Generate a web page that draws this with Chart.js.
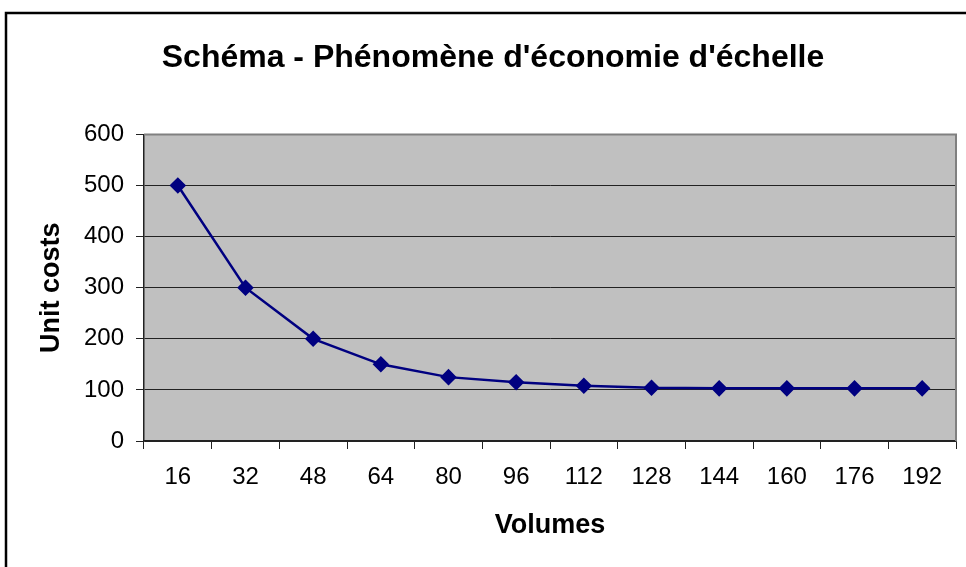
<!DOCTYPE html>
<html>
<head>
<meta charset="utf-8">
<script src="https://cdn.jsdelivr.net/npm/chart.js@4/dist/chart.umd.min.js"></script>
<style>
  html, body { margin: 0; padding: 0; background: #fff; }
  #holder { width: 966px; height: 567px; }
</style>
</head>
<body>
<div id="holder"><canvas id="chart" width="966" height="567"></canvas></div>
<script>
var volumes = ['16', '32', '48', '64', '80', '96', '112', '128', '144', '160', '176', '192']
var unit_costs = [500, 300, 200, 150, 125, 115, 108, 104, 103, 103, 103, 103]
var chart_title = "Schéma - Phénomène d'économie d'échelle"
var y_title = 'Unit costs'
var x_title = 'Volumes'

var font_family = "Arial, 'Liberation Sans', sans-serif"

// grey plot area + outer frame, like the old Excel chart
var frame_plugin = {
    id: 'frame',
    beforeDraw: function (chart) {
        var ctx = chart.ctx
        var a = chart.chartArea
        ctx.save()
        ctx.fillStyle = '#fff'
        ctx.fillRect(0, 0, chart.width, chart.height)
        ctx.fillStyle = '#c0c0c0'
        ctx.fillRect(a.left, a.top, a.right - a.left, a.bottom - a.top)
        ctx.restore()
    },
    afterDraw: function (chart) {
        var ctx = chart.ctx
        var a = chart.chartArea
        ctx.save()
        ctx.strokeStyle = '#808080'
        ctx.lineWidth = 2
        ctx.beginPath()
        ctx.moveTo(a.left, a.top)
        ctx.lineTo(a.right, a.top)
        ctx.lineTo(a.right, a.bottom)
        ctx.stroke()
        ctx.strokeStyle = '#000'
        ctx.lineWidth = 2.5
        ctx.strokeRect(6, 13, 1100, 1100)
        ctx.restore()
    }
}

Chart.defaults.color = '#000'
Chart.defaults.font.family = font_family

new Chart(document.getElementById('chart'), {
    type: 'line',
    data: {
        labels: volumes,
        datasets: [{
            label: y_title,
            data: unit_costs,
            borderColor: '#000080',
            backgroundColor: '#000080',
            borderWidth: 2.5,
            pointStyle: 'rectRot',
            pointRadius: 6.5,
            pointHoverRadius: 6.5,
            tension: 0,
            fill: false
        }]
    },
    options: {
        responsive: false,
        animation: false,
        layout: {padding: {left: 30, right: 10, top: 0, bottom: 0}},
        plugins: {
            legend: {display: false},
            tooltip: {enabled: false},
            title: {
                display: true,
                text: chart_title,
                color: '#000',
                font: {size: 32, weight: 'bold', family: font_family},
                padding: {top: 39, bottom: 57}
            }
        },
        scales: {
            x: {
                offset: true,
                grid: {
                    offset: true,
                    drawOnChartArea: false,
                    color: '#222',
                    tickLength: 8
                },
                border: {color: '#222', width: 1.5},
                ticks: {
                    font: {size: 24},
                    padding: 14,
                    maxRotation: 0,
                    autoSkip: false
                },
                title: {
                    display: true,
                    text: x_title,
                    font: {size: 27, weight: 'bold'},
                    padding: {top: 0, bottom: 25}
                },
                afterFit: function (scale) { scale.height = 126 }
            },
            y: {
                min: 0,
                max: 600,
                grid: {
                    color: '#222',
                    tickLength: 8
                },
                border: {color: '#222', width: 1.5},
                ticks: {
                    stepSize: 100,
                    font: {size: 24},
                    padding: 12
                },
                title: {
                    display: true,
                    text: y_title,
                    font: {size: 27, weight: 'bold'},
                    padding: {top: 5, bottom: 0}
                },
                afterFit: function (scale) { scale.width = 114 }
            }
        }
    },
    plugins: [frame_plugin]
})
</script>
</body>
</html>
